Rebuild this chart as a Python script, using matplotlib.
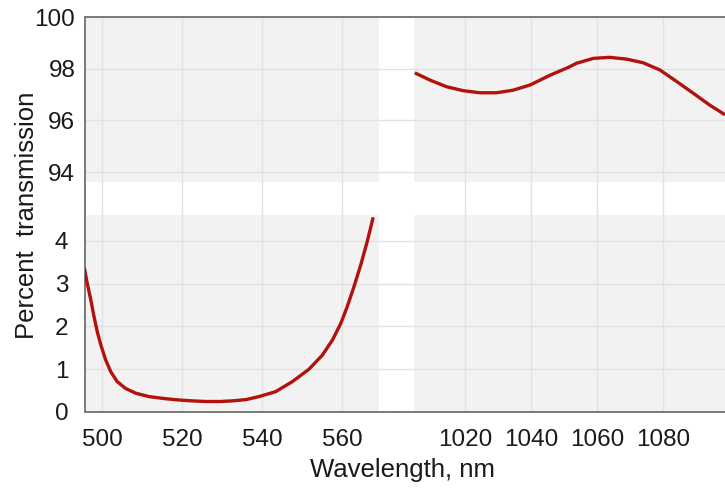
import numpy as np
import matplotlib
matplotlib.use("Agg")
import matplotlib.pyplot as plt
from matplotlib.patches import Rectangle

plt.rcParams['font.family'] = ['Liberation Sans', 'DejaVu Sans']

# Visible-band data (bottom-left panel)
wl_vis = [495.6, 496.3, 497.2, 498.0, 498.8, 499.7, 500.9, 502.2, 503.8, 505.9,
          508.4, 511.75, 515.9, 519.25, 522.5, 526.0, 529.5, 532.6, 536.0, 539.25,
          543.4, 547.6, 551.75, 555.1, 557.6, 559.7, 561.3, 563.0, 564.7, 566.3,
          567.8]
tr_vis = [3.36, 3.01, 2.62, 2.23, 1.88, 1.57, 1.22, 0.94, 0.71, 0.55,
          0.44, 0.36, 0.31, 0.28, 0.26, 0.245, 0.245, 0.26, 0.29, 0.36,
          0.475, 0.71, 1.0, 1.33, 1.68, 2.07, 2.46, 2.93, 3.44, 3.98,
          4.55]

# NIR data (top-right panel)
wl_nir = [1004.8, 1009.4, 1014.5, 1019.5, 1024.5, 1029.6, 1034.6, 1039.7, 1045.8,
          1051.3, 1053.8, 1058.9, 1063.9, 1069.0, 1074.0, 1079.1, 1084.2, 1089.2,
          1094.2, 1098.8]
tr_nir = [97.84, 97.56, 97.30, 97.15, 97.07, 97.07, 97.17, 97.37, 97.75,
          98.05, 98.21, 98.40, 98.44, 98.37, 98.23, 97.95, 97.50, 97.05,
          96.59, 96.22]

xticks_vis = [500, 520, 540, 560]
xticks_nir = [1020, 1040, 1060, 1080]
yticks_top = [94, 96, 98, 100]
yticks_bot = [0, 1, 2, 3, 4]

xlabel = "Wavelength, nm"
ylabel = "Percent  transmission"

W, H = 725, 492
fig = plt.figure(figsize=(W / 100, H / 100), dpi=100)

def fx(p):
    return p / W

def fy(p):
    return 1 - p / H

xl0, xmid, xr1 = 85, 397, 725
yt0, ymid, yb1 = 17, 198, 412

ax_tl = fig.add_axes([fx(xl0), fy(ymid), fx(xmid - xl0), (ymid - yt0) / H])
ax_tr = fig.add_axes([fx(xmid), fy(ymid), fx(xr1 - xmid), (ymid - yt0) / H])
ax_bl = fig.add_axes([fx(xl0), fy(yb1), fx(xmid - xl0), (yb1 - ymid) / H])
ax_br = fig.add_axes([fx(xmid), fy(yb1), fx(xr1 - xmid), (yb1 - ymid) / H])

xlim_vis = (495.75, 573.75)
xlim_nir = (999.4, 1098.8)
ylim_top = (93.0, 100.0)
ylim_bot = (0.0, 5.0)
gray_vis = (495.75, 569.25)
gray_nir = (1004.5, 1098.8)
gray_top = (93.6, 100.0)
gray_bot = (0.0, 4.6)

line_color = '#b3110c'
grid_color = '#e2e2e2'
spine_color = '#7a7a7a'
panel_color = '#f2f2f2'
text_color = '#1a1a1a'

cfg = [
    (ax_tl, xlim_vis, ylim_top, gray_vis, gray_top, xticks_vis, yticks_top),
    (ax_tr, xlim_nir, ylim_top, gray_nir, gray_top, xticks_nir, yticks_top),
    (ax_bl, xlim_vis, ylim_bot, gray_vis, gray_bot, xticks_vis, yticks_bot),
    (ax_br, xlim_nir, ylim_bot, gray_nir, gray_bot, xticks_nir, yticks_bot),
]

for ax, xl, yl, gx, gy, xt, yt in cfg:
    ax.set_facecolor('white')
    ax.set_xlim(*xl)
    ax.set_ylim(*yl)
    ax.add_patch(Rectangle((gx[0], gy[0]), gx[1] - gx[0], gy[1] - gy[0],
                           facecolor=panel_color, edgecolor='none', zorder=0.1))
    ax.set_xticks(xt)
    ax.set_yticks(yt)
    ax.set_axisbelow(True)
    ax.grid(True, color=grid_color, linewidth=1.0)
    ax.tick_params(length=0, labelsize=17.5, colors=text_color)
    for s in ax.spines.values():
        s.set_visible(False)
        s.set_color(spine_color)
        s.set_linewidth(1.4)

for ax in (ax_tl, ax_tr):
    ax.tick_params(labelbottom=False)
    ax.spines['top'].set_visible(True)
for ax in (ax_tr, ax_br):
    ax.tick_params(labelleft=False)
for ax in (ax_tl, ax_bl):
    ax.spines['left'].set_visible(True)
for ax in (ax_bl, ax_br):
    ax.spines['bottom'].set_visible(True)
    ax.tick_params(axis='x', pad=12)

ax_tl.tick_params(axis='y', pad=7)
ax_bl.tick_params(axis='y', pad=12)

ax_bl.plot(wl_vis, tr_vis, color=line_color, linewidth=2.4, zorder=3,
           solid_capstyle='butt', solid_joinstyle='round')
ax_tr.plot(wl_nir, tr_nir, color=line_color, linewidth=2.4, zorder=3,
           solid_capstyle='butt', solid_joinstyle='round')

fig.text(fx(403), fy(470), xlabel, ha='center', va='center', fontsize=18.5,
         color=text_color)
fig.text(fx(27), fy(215), ylabel, ha='center', va='center', fontsize=18.5,
         rotation=90, color=text_color)

fig.savefig('out.png', dpi=100)
